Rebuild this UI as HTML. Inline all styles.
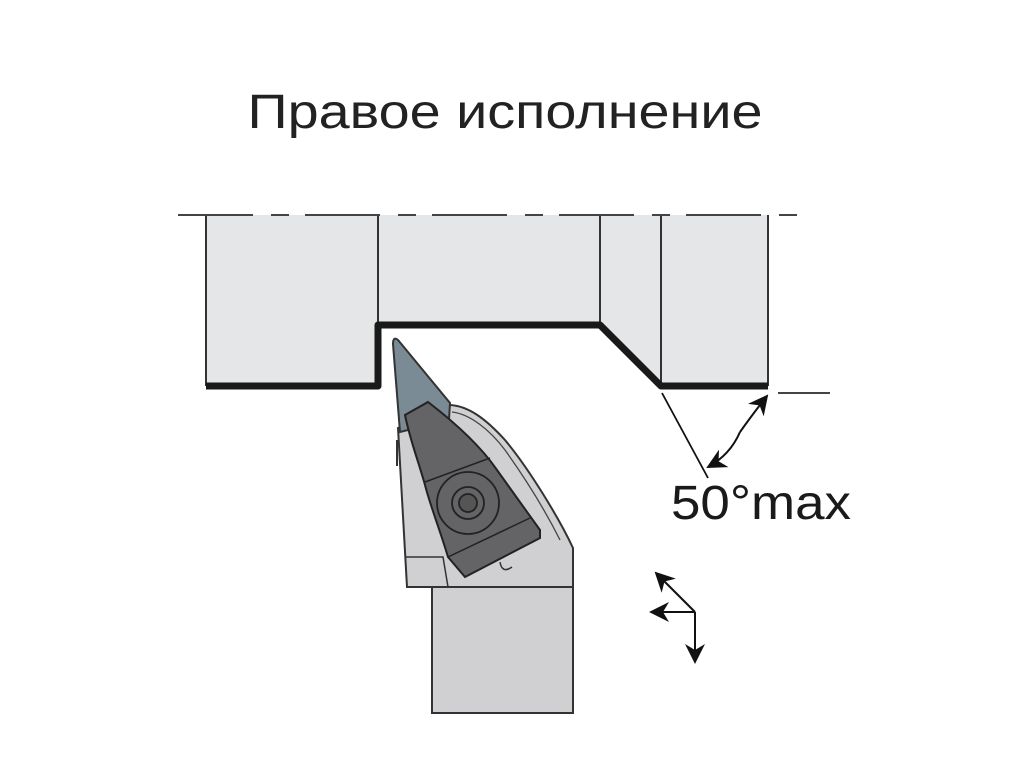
<!DOCTYPE html>
<html><head><meta charset="utf-8"><style>
html,body{margin:0;padding:0;background:#fff;}
svg{display:block;}
</style></head><body>
<svg width="1024" height="768" viewBox="0 0 1024 768" xmlns="http://www.w3.org/2000/svg">
<defs>
<marker id="ah2" viewBox="0 0 10 10" refX="9" refY="5" markerWidth="20" markerHeight="20" markerUnits="userSpaceOnUse" orient="auto">
<path d="M0,0 L10,5 L0,10 L3,5 Z" fill="#111"/></marker>
</defs>
<text x="505" y="128" text-anchor="middle" font-family="Liberation Sans, sans-serif" font-size="48" fill="#222" textLength="515" lengthAdjust="spacingAndGlyphs">Правое исполнение</text>

<!-- workpiece -->
<polygon points="206,215 768,215 768,386 661,386 600,325 378,325 378,386 206,386" fill="#e5e6e8"/>
<g stroke="#333" stroke-width="2" fill="none">
<line x1="206" y1="215" x2="206" y2="386"/>
<line x1="378" y1="215" x2="378" y2="325"/>
<line x1="600" y1="215" x2="600" y2="325"/>
<line x1="661" y1="215" x2="661" y2="386"/>
<line x1="768" y1="215" x2="768" y2="386"/>
</g>
<polyline points="206,386 378,386 378,325 600,325 661,386 768,386" fill="none" stroke="#1a1a1a" stroke-width="7" stroke-linejoin="round"/>
<line x1="178" y1="215" x2="805" y2="215" stroke="#444" stroke-width="2" stroke-dasharray="75,18,18,16"/>

<!-- shank -->
<rect x="432" y="585" width="141" height="128" fill="#d0d0d2" stroke="#333" stroke-width="2"/>
<!-- head -->
<path d="M398,428 L407,587 L573,587 L573,548 C560,520 530,470 505,440 C485,418 468,406 450,405 L398,428 Z" fill="#d0d0d2" stroke="#333" stroke-width="2"/>
<path d="M452,412 C470,414 490,430 505,450 C525,478 545,510 560,540" fill="none" stroke="#444" stroke-width="1.3"/>
<line x1="397" y1="440" x2="397" y2="466" stroke="#333" stroke-width="2"/>
<polyline points="406,557 443,557 448,587" fill="none" stroke="#333" stroke-width="1.5"/>
<!-- insert -->
<path d="M393,344 Q393,336 398,340 L450,403 L449,420 L400,432 Z" fill="#7b8b95" stroke="#333" stroke-width="2"/>
<!-- clamp -->
<path d="M405,415 L428,402 C458,425 482,448 497,470 L540,530 L540,538 L465,577 L448,557 C440,530 430,505 425,485 C418,460 410,440 405,415 Z" fill="#646467" stroke="#222" stroke-width="2"/>
<line x1="425" y1="482" x2="490" y2="458" stroke="#222" stroke-width="1.5"/>
<line x1="448" y1="557" x2="530" y2="518" stroke="#222" stroke-width="1.5"/>
<circle cx="468" cy="503" r="31" fill="#646467" stroke="#222" stroke-width="1.8"/>
<circle cx="468" cy="503" r="16" fill="#646467" stroke="#222" stroke-width="1.8"/>
<circle cx="468" cy="503" r="9" fill="#555" stroke="#222" stroke-width="1.8"/>
<path d="M500,562 Q502,574 512,567" fill="#d0d0d2" stroke="#333" stroke-width="1.5"/>

<!-- angle -->
<line x1="662" y1="393" x2="708" y2="478" stroke="#111" stroke-width="1.8"/>
<line x1="778" y1="393" x2="830" y2="393" stroke="#444" stroke-width="2"/>
<path d="M740,432 Q730,455 708,467" fill="none" stroke="#111" stroke-width="2" marker-end="url(#ah2)"/>
<path d="M740,432 Q752,415 767,396" fill="none" stroke="#111" stroke-width="2" marker-end="url(#ah2)"/>
<text x="671" y="519" font-family="Liberation Sans, sans-serif" font-size="48" fill="#1a1a1a" textLength="180" lengthAdjust="spacingAndGlyphs">50°max</text>

<!-- direction arrows -->
<g stroke="#111" stroke-width="2" fill="none">
<line x1="695" y1="612" x2="656" y2="573" marker-end="url(#ah2)"/>
<line x1="695" y1="612" x2="651" y2="612" marker-end="url(#ah2)"/>
<line x1="695" y1="612" x2="695" y2="662" marker-end="url(#ah2)"/>
</g>
</svg>
</body></html>
